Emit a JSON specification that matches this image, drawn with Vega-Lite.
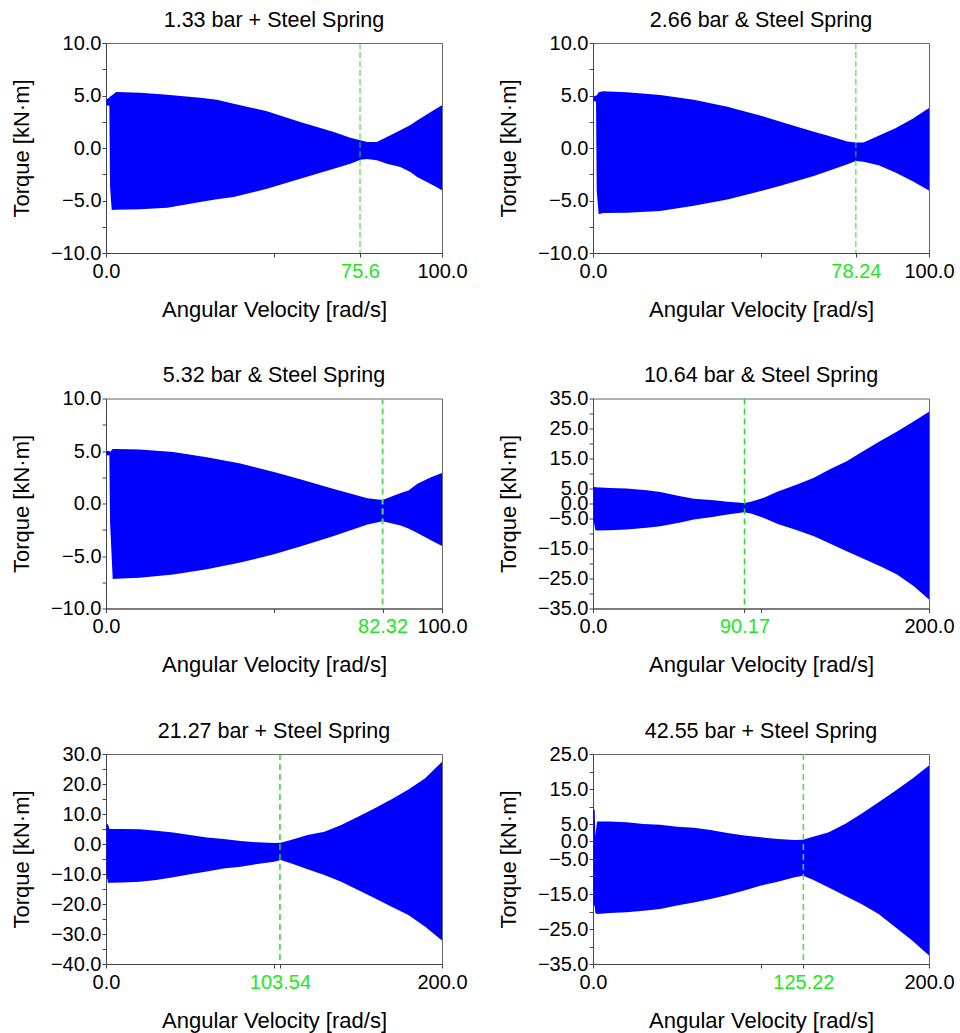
{
  "$schema": "https://vega.github.io/schema/vega-lite/v6.json",
  "autosize": {"type": "pad"},
  "padding": {"left": 9, "top": 9, "right": 5, "bottom": 5},
  "background": "white",
  "columns": 2,
  "bounds": "flush",
  "spacing": {"row": 145.5, "column": 151},
  "config": {
    "font": "Liberation Sans",
    "view": {"stroke": "#666", "strokeWidth": 1},
    "axis": {"grid": false, "domainColor": "#444", "tickColor": "#444", "tickSize": 4, "labelFontSize": 20, "labelColor": "#000", "titleFontSize": 22, "titleFontWeight": "normal", "titleColor": "#000", "labelFlush": false, "labelOverlap": false, "labelBound": false},
    "axisX": {"labelPadding": 4, "titleY": 63, "titleBaseline": "alphabetic"},
    "axisY": {"labelPadding": 1, "titleX": -77.5, "titleBaseline": "alphabetic"},
    "title": {"fontSize": 21.5, "fontWeight": "normal", "color": "#000", "frame": "group", "baseline": "alphabetic", "offset": 2}
  },
  "datasets": {
    "p1": [
      {"w": 0.1, "hi": 4.6, "lo": 4.1}, {"w": 1.0, "hi": 4.8, "lo": 4.0}, {"w": 1.2, "hi": 4.9, "lo": -3.7}, {"w": 1.7, "hi": 5.0, "lo": -5.9},
      {"w": 3, "hi": 5.33, "lo": -5.87}, {"w": 10.2, "hi": 5.27, "lo": -5.84}, {"w": 18.2, "hi": 5.08, "lo": -5.68}, {"w": 28, "hi": 4.79, "lo": -5.14},
      {"w": 33, "hi": 4.6, "lo": -4.89}, {"w": 38, "hi": 4.22, "lo": -4.67}, {"w": 47.9, "hi": 3.49, "lo": -3.87}, {"w": 57.8, "hi": 2.48, "lo": -2.92},
      {"w": 67.8, "hi": 1.52, "lo": -1.97}, {"w": 72.7, "hi": 0.98, "lo": -1.49}, {"w": 75.7, "hi": 0.73, "lo": -1.11}, {"w": 77.7, "hi": 0.57, "lo": -1.05},
      {"w": 80.6, "hi": 0.57, "lo": -1.17}, {"w": 83.6, "hi": 1.05, "lo": -1.49}, {"w": 87.6, "hi": 1.68, "lo": -1.81}, {"w": 90.6, "hi": 2.2, "lo": -2.29},
      {"w": 92.6, "hi": 2.63, "lo": -2.76}, {"w": 97.5, "hi": 3.59, "lo": -3.56}, {"w": 100, "hi": 4.06, "lo": -4.03}
    ],
    "p2": [
      {"w": 0.1, "hi": 4.9, "lo": 4.5}, {"w": 0.9, "hi": 5.0, "lo": 4.4}, {"w": 1.1, "hi": 5.0, "lo": -4.1}, {"w": 1.7, "hi": 5.3, "lo": -6.3},
      {"w": 3, "hi": 5.4, "lo": -6.2}, {"w": 10, "hi": 5.3, "lo": -6.17}, {"w": 20, "hi": 5.05, "lo": -6.0}, {"w": 30, "hi": 4.6, "lo": -5.5},
      {"w": 40, "hi": 3.94, "lo": -4.9}, {"w": 50, "hi": 3.08, "lo": -4.1}, {"w": 55.8, "hi": 2.5, "lo": -3.6}, {"w": 65.7, "hi": 1.55, "lo": -2.66},
      {"w": 70, "hi": 1.16, "lo": -2.2}, {"w": 75.7, "hi": 0.62, "lo": -1.55}, {"w": 78.2, "hi": 0.53, "lo": -1.23}, {"w": 80.5, "hi": 0.53, "lo": -1.3},
      {"w": 85, "hi": 1.16, "lo": -1.64}, {"w": 90, "hi": 1.87, "lo": -2.34}, {"w": 95, "hi": 2.76, "lo": -3.14}, {"w": 100, "hi": 3.81, "lo": -4.04}
    ],
    "p3": [
      {"w": 0.1, "hi": 5.0, "lo": 4.6}, {"w": 1.0, "hi": 5.0, "lo": 4.6}, {"w": 1.2, "hi": 4.9, "lo": -1.8}, {"w": 2.0, "hi": 5.2, "lo": -7.2},
      {"w": 3, "hi": 5.2, "lo": -7.16}, {"w": 10, "hi": 5.15, "lo": -7.06}, {"w": 20, "hi": 4.9, "lo": -6.75}, {"w": 30, "hi": 4.4, "lo": -6.27},
      {"w": 40, "hi": 3.8, "lo": -5.63}, {"w": 50, "hi": 3.0, "lo": -4.83}, {"w": 57.8, "hi": 2.3, "lo": -4.1}, {"w": 67.8, "hi": 1.39, "lo": -3.1},
      {"w": 77.8, "hi": 0.49, "lo": -2.0}, {"w": 82.3, "hi": 0.34, "lo": -1.7}, {"w": 87.7, "hi": 1.0, "lo": -2.1}, {"w": 90, "hi": 1.25, "lo": -2.38},
      {"w": 92.7, "hi": 1.87, "lo": -2.8}, {"w": 96.7, "hi": 2.5, "lo": -3.5}, {"w": 100, "hi": 2.9, "lo": -4.04}
    ],
    "p4": [
      {"w": 0.2, "hi": 5.6, "lo": -5.5}, {"w": 1.5, "hi": 5.4, "lo": -9.0}, {"w": 10, "hi": 5.2, "lo": -8.9}, {"w": 20, "hi": 5.0, "lo": -8.7},
      {"w": 32, "hi": 4.4, "lo": -8.1}, {"w": 40, "hi": 3.8, "lo": -7.6}, {"w": 52, "hi": 2.4, "lo": -6.3}, {"w": 60, "hi": 1.6, "lo": -5.3},
      {"w": 72, "hi": 1.1, "lo": -4.4}, {"w": 80, "hi": 0.6, "lo": -3.7}, {"w": 90, "hi": 0.2, "lo": -2.9}, {"w": 94, "hi": 0.6, "lo": -3.3},
      {"w": 101.7, "hi": 1.9, "lo": -4.8}, {"w": 110, "hi": 4.0, "lo": -6.8}, {"w": 121.5, "hi": 6.3, "lo": -8.9}, {"w": 131.5, "hi": 8.6, "lo": -10.9},
      {"w": 141, "hi": 11.4, "lo": -13.3}, {"w": 151, "hi": 14.1, "lo": -15.9}, {"w": 161, "hi": 17.5, "lo": -18.4}, {"w": 171, "hi": 20.8, "lo": -20.9},
      {"w": 181, "hi": 24.0, "lo": -23.7}, {"w": 191, "hi": 27.4, "lo": -27.6}, {"w": 200, "hi": 30.6, "lo": -32.0}
    ],
    "p5": [
      {"w": 0.2, "hi": 6.6, "lo": -9.8}, {"w": 1.2, "hi": 6.6, "lo": -13.0}, {"w": 2.0, "hi": 5.0, "lo": -12.9}, {"w": 10, "hi": 5.0, "lo": -12.8},
      {"w": 20, "hi": 4.9, "lo": -12.6}, {"w": 30, "hi": 4.4, "lo": -12.0}, {"w": 40, "hi": 3.8, "lo": -11.1}, {"w": 50, "hi": 3.0, "lo": -10.1},
      {"w": 60, "hi": 2.2, "lo": -9.2}, {"w": 70, "hi": 1.7, "lo": -8.2}, {"w": 80, "hi": 1.0, "lo": -7.6}, {"w": 90, "hi": 0.55, "lo": -6.7},
      {"w": 100, "hi": 0.33, "lo": -5.9}, {"w": 104, "hi": 0.45, "lo": -5.3}, {"w": 110, "hi": 1.3, "lo": -6.4}, {"w": 120, "hi": 3.0, "lo": -8.4},
      {"w": 130, "hi": 4.1, "lo": -10.3}, {"w": 140, "hi": 6.3, "lo": -12.6}, {"w": 150, "hi": 9.1, "lo": -15.3}, {"w": 160, "hi": 11.9, "lo": -18.1},
      {"w": 170, "hi": 14.9, "lo": -20.9}, {"w": 180, "hi": 18.2, "lo": -23.7}, {"w": 190, "hi": 21.9, "lo": -27.6}, {"w": 200, "hi": 27.4, "lo": -32.2}
    ],
    "p6": [
      {"w": 0.2, "hi": 9.3, "lo": -17.9}, {"w": 1.0, "hi": 9.0, "lo": -18.5}, {"w": 1.4, "hi": 1.5, "lo": -20.5}, {"w": 2.4, "hi": 5.7, "lo": -20.7},
      {"w": 10, "hi": 5.7, "lo": -20.4}, {"w": 20, "hi": 5.5, "lo": -20.2}, {"w": 30, "hi": 5.0, "lo": -19.8}, {"w": 40, "hi": 4.8, "lo": -19.3},
      {"w": 50, "hi": 4.2, "lo": -18.3}, {"w": 60, "hi": 3.9, "lo": -17.4}, {"w": 70, "hi": 3.3, "lo": -16.4}, {"w": 80, "hi": 2.4, "lo": -15.3},
      {"w": 90, "hi": 1.7, "lo": -14.0}, {"w": 100, "hi": 1.2, "lo": -12.6}, {"w": 110, "hi": 0.7, "lo": -11.5}, {"w": 120, "hi": 0.4, "lo": -10.2},
      {"w": 125, "hi": 0.5, "lo": -9.8}, {"w": 130, "hi": 1.2, "lo": -10.7}, {"w": 140, "hi": 2.6, "lo": -13.1}, {"w": 150, "hi": 5.0, "lo": -15.5},
      {"w": 160, "hi": 8.0, "lo": -17.9}, {"w": 170, "hi": 11.2, "lo": -20.7}, {"w": 180, "hi": 14.5, "lo": -24.5}, {"w": 190, "hi": 17.9, "lo": -28.3},
      {"w": 200, "hi": 21.7, "lo": -32.6}
    ]
  },
  "concat": [
    {
      "title": "1.33 bar + Steel Spring", "width": 336, "height": 210,
      "layer": [
        {"data": {"name": "p1"}, "mark": {"type": "area", "color": "#0000ff"},
         "encoding": {
           "x": {"field": "w", "type": "quantitative", "title": "Angular Velocity [rad/s]", "scale": {"domain": [0, 100], "nice": false, "zero": false},
                 "axis": {"values": [0, 50, 75.6, 100], "labelExpr": "datum.value == 50 ? '' : format(datum.value, '.1f')",
                          "labelColor": {"condition": {"test": "datum.value == 75.6", "value": "#22e622"}, "value": "#000"}}},
           "y": {"field": "hi", "type": "quantitative", "title": "Torque [kN·m]", "scale": {"domain": [-10, 10], "nice": false, "zero": false},
                 "axis": {"values": [-10, -7.5, -5, -2.5, 0, 2.5, 5, 7.5, 10], "labelExpr": "abs(datum.value % 5) > 0.01 ? '' : format(datum.value, '.1f')"}},
           "y2": {"field": "lo"}}},
        {"data": {"values": [{"w": 75.6}]}, "mark": {"type": "rule", "color": "#22dd22", "strokeWidth": 1, "strokeDash": [6, 3]},
         "encoding": {"x": {"field": "w", "type": "quantitative", "title": "Angular Velocity [rad/s]"}}}
      ]
    },
    {
      "title": "2.66 bar & Steel Spring", "width": 336, "height": 210,
      "layer": [
        {"data": {"name": "p2"}, "mark": {"type": "area", "color": "#0000ff"},
         "encoding": {
           "x": {"field": "w", "type": "quantitative", "title": "Angular Velocity [rad/s]", "scale": {"domain": [0, 100], "nice": false, "zero": false},
                 "axis": {"values": [0, 50, 78.24, 100], "labelExpr": "datum.value == 50 ? '' : datum.value == 78.24 ? '78.24' : format(datum.value, '.1f')",
                          "labelColor": {"condition": {"test": "datum.value == 78.24", "value": "#22e622"}, "value": "#000"}}},
           "y": {"field": "hi", "type": "quantitative", "title": "Torque [kN·m]", "scale": {"domain": [-10, 10], "nice": false, "zero": false},
                 "axis": {"values": [-10, -7.5, -5, -2.5, 0, 2.5, 5, 7.5, 10], "labelExpr": "abs(datum.value % 5) > 0.01 ? '' : format(datum.value, '.1f')"}},
           "y2": {"field": "lo"}}},
        {"data": {"values": [{"w": 78.24}]}, "mark": {"type": "rule", "color": "#22dd22", "strokeWidth": 1, "strokeDash": [6, 3]},
         "encoding": {"x": {"field": "w", "type": "quantitative", "title": "Angular Velocity [rad/s]"}}}
      ]
    },
    {
      "title": "5.32 bar & Steel Spring", "width": 336, "height": 210,
      "layer": [
        {"data": {"name": "p3"}, "mark": {"type": "area", "color": "#0000ff"},
         "encoding": {
           "x": {"field": "w", "type": "quantitative", "title": "Angular Velocity [rad/s]", "scale": {"domain": [0, 100], "nice": false, "zero": false},
                 "axis": {"values": [0, 50, 82.32, 100], "labelExpr": "datum.value == 50 ? '' : datum.value == 82.32 ? '82.32' : format(datum.value, '.1f')",
                          "labelColor": {"condition": {"test": "datum.value == 82.32", "value": "#22e622"}, "value": "#000"}}},
           "y": {"field": "hi", "type": "quantitative", "title": "Torque [kN·m]", "scale": {"domain": [-10, 10], "nice": false, "zero": false},
                 "axis": {"values": [-10, -7.5, -5, -2.5, 0, 2.5, 5, 7.5, 10], "labelExpr": "abs(datum.value % 5) > 0.01 ? '' : format(datum.value, '.1f')"}},
           "y2": {"field": "lo"}}},
        {"data": {"values": [{"w": 82.32}]}, "mark": {"type": "rule", "color": "#55e055", "strokeWidth": 2, "strokeDash": [6, 4]},
         "encoding": {"x": {"field": "w", "type": "quantitative", "title": "Angular Velocity [rad/s]"}}}
      ]
    },
    {
      "title": "10.64 bar & Steel Spring", "width": 336, "height": 210,
      "layer": [
        {"data": {"name": "p4"}, "mark": {"type": "area", "color": "#0000ff"},
         "encoding": {
           "x": {"field": "w", "type": "quantitative", "title": "Angular Velocity [rad/s]", "scale": {"domain": [0, 200], "nice": false, "zero": false},
                 "axis": {"values": [0, 90.17, 100, 200], "labelExpr": "datum.value == 100 ? '' : datum.value == 90.17 ? '90.17' : format(datum.value, '.1f')",
                          "labelColor": {"condition": {"test": "datum.value == 90.17", "value": "#22e622"}, "value": "#000"}}},
           "y": {"field": "hi", "type": "quantitative", "title": "Torque [kN·m]", "scale": {"domain": [-35, 35], "nice": false, "zero": false},
                 "axis": {"values": [-35, -30, -25, -20, -15, -10, -5, 0, 5, 10, 15, 20, 25, 30, 35], "labelExpr": "datum.value != 0 && datum.value % 10 == 0 ? '' : format(datum.value, '.1f')"}},
           "y2": {"field": "lo"}}},
        {"data": {"values": [{"w": 90.17}]}, "mark": {"type": "rule", "color": "#22dd22", "strokeWidth": 1.5, "strokeDash": [6, 4]},
         "encoding": {"x": {"field": "w", "type": "quantitative", "title": "Angular Velocity [rad/s]"}}}
      ]
    },
    {
      "title": "21.27 bar + Steel Spring", "width": 336, "height": 210,
      "layer": [
        {"data": {"name": "p5"}, "mark": {"type": "area", "color": "#0000ff"},
         "encoding": {
           "x": {"field": "w", "type": "quantitative", "title": "Angular Velocity [rad/s]", "scale": {"domain": [0, 200], "nice": false, "zero": false},
                 "axis": {"values": [0, 100, 103.54, 200], "labelExpr": "datum.value == 100 ? '' : datum.value == 103.54 ? '103.54' : format(datum.value, '.1f')",
                          "labelColor": {"condition": {"test": "datum.value == 103.54", "value": "#22e622"}, "value": "#000"}}},
           "y": {"field": "hi", "type": "quantitative", "title": "Torque [kN·m]", "scale": {"domain": [-40, 30], "nice": false, "zero": false},
                 "axis": {"values": [-40, -35, -30, -25, -20, -15, -10, -5, 0, 5, 10, 15, 20, 25, 30], "labelExpr": "datum.value % 10 != 0 ? '' : format(datum.value, '.1f')"}},
           "y2": {"field": "lo"}}},
        {"data": {"values": [{"w": 103.54}]}, "mark": {"type": "rule", "color": "#22dd22", "strokeWidth": 1.5, "strokeDash": [6, 4]},
         "encoding": {"x": {"field": "w", "type": "quantitative", "title": "Angular Velocity [rad/s]"}}}
      ]
    },
    {
      "title": "42.55 bar + Steel Spring", "width": 336, "height": 210,
      "layer": [
        {"data": {"name": "p6"}, "mark": {"type": "area", "color": "#0000ff"},
         "encoding": {
           "x": {"field": "w", "type": "quantitative", "title": "Angular Velocity [rad/s]", "scale": {"domain": [0, 200], "nice": false, "zero": false},
                 "axis": {"values": [0, 100, 125.22, 200], "labelExpr": "datum.value == 100 ? '' : datum.value == 125.22 ? '125.22' : format(datum.value, '.1f')",
                          "labelColor": {"condition": {"test": "datum.value == 125.22", "value": "#22e622"}, "value": "#000"}}},
           "y": {"field": "hi", "type": "quantitative", "title": "Torque [kN·m]", "scale": {"domain": [-35, 25], "nice": false, "zero": false},
                 "axis": {"values": [-35, -30, -25, -20, -15, -10, -5, 0, 5, 10, 15, 20, 25], "labelExpr": "datum.value != 0 && datum.value % 10 == 0 ? '' : format(datum.value, '.1f')"}},
           "y2": {"field": "lo"}}},
        {"data": {"values": [{"w": 125.22}]}, "mark": {"type": "rule", "color": "#44e044", "strokeWidth": 1.5, "strokeDash": [6, 4]},
         "encoding": {"x": {"field": "w", "type": "quantitative", "title": "Angular Velocity [rad/s]"}}}
      ]
    }
  ]
}
